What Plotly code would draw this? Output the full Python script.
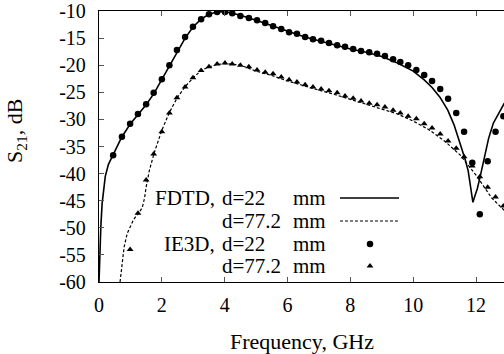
import plotly.graph_objects as go

# ---- data ----
fdtd22_f = [0, 0.03, 0.06, 0.1, 0.15, 0.2, 0.3, 0.45, 0.73, 1.0, 1.25, 1.5, 1.75, 2.0, 2.25, 2.5,
            2.75, 3.0, 3.25, 3.5, 3.75, 4.0, 4.25, 4.5, 5.0, 5.5, 6.0, 6.5, 7.0, 7.5, 8.0, 8.5,
            9.0, 9.5, 10.0, 10.35, 10.6, 10.85, 11.1, 11.3, 11.5, 11.65, 11.75, 11.82, 11.9,
            11.97, 12.04, 12.13, 12.23, 12.4, 12.55, 12.75, 12.9]
fdtd22_db = [-60, -54, -49.5, -45.5, -42.5, -40.5, -38.3, -36.5, -33.2, -30.8, -29.0, -27.3, -25.2,
             -22.6, -20.0, -17.3, -14.9, -12.9, -11.5, -10.6, -10.2, -10.1, -10.4, -10.8, -11.7,
             -12.7, -13.8, -14.7, -15.5, -16.3, -17.0, -17.6, -18.4, -19.6, -21.1, -22.7, -24.1,
             -25.9, -28.3, -31.0, -34.4, -37.3, -39.5, -42.0, -45.3, -44.0, -42.8, -40.6, -37.8,
             -33.5, -30.7, -28.5, -27.0]

fdtd77_f = [0.67, 0.72, 0.8, 0.9, 1.0, 1.1, 1.2, 1.3, 1.38, 1.45, 1.5, 1.6, 1.75, 2.0, 2.25, 2.5,
            2.75, 3.0, 3.25, 3.5, 3.75, 4.0, 4.25, 4.5, 5.0, 5.5, 6.0, 6.5, 7.0, 7.5, 8.0, 8.5,
            9.0, 9.5, 10.0, 10.5, 11.0, 11.5, 12.0, 12.25, 12.5, 12.9]
fdtd77_db = [-60, -57, -53.5, -51, -49.6, -48.5, -47.7, -47.0, -46.2, -44.5, -42.5, -39.5, -36.3,
             -32.0, -28.6, -25.9, -23.9, -22.3, -21.0, -20.3, -19.9, -19.7, -19.8, -20.0, -21.1,
             -21.9, -22.9, -23.8, -24.6, -25.4, -26.3, -27.2, -28.0, -29.0, -30.3, -31.9, -34.0,
             -36.6, -40.3, -42.5, -44.5, -46.8]

ie3d22_f = [0.45, 0.73, 0.99, 1.24, 1.5, 1.74, 2.0, 2.24, 2.48, 2.74, 2.99, 3.25, 3.5, 3.76, 4.01,
            4.24, 4.5, 4.77, 5.03, 5.29, 5.54, 5.8, 6.05, 6.3, 6.56, 6.81, 7.07, 7.32, 7.58, 7.83,
            8.09, 8.34, 8.6, 8.85, 9.1, 9.36, 9.59, 9.84, 10.1, 10.35, 10.6, 10.86, 11.11, 11.37,
            11.62, 11.88, 12.12, 12.37, 12.62, 12.87]
ie3d22_db = [-36.6, -33.2, -30.8, -29.0, -27.2, -25.1, -22.6, -20.0, -17.2, -14.8, -12.9, -11.5,
             -10.6, -10.2, -10.2, -10.4, -10.9, -11.3, -11.7, -12.2, -12.8, -13.3, -13.9, -14.2,
             -14.8, -15.2, -15.5, -15.9, -16.3, -16.6, -17.0, -17.4, -17.6, -17.9, -18.3, -18.9,
             -19.4, -20.0, -20.9, -21.8, -22.9, -24.4, -26.2, -28.8, -32.3, -38.0, -47.5, -37.7,
             -32.3, -29.4]

ie3d77_f = [0.99, 1.24, 1.5, 1.74, 2.0, 2.24, 2.48, 2.74, 2.99, 3.25, 3.5, 3.76, 4.01, 4.24, 4.5,
            4.77, 5.03, 5.29, 5.54, 5.8, 6.05, 6.3, 6.56, 6.81, 7.07, 7.32, 7.58, 7.83, 8.09, 8.34,
            8.6, 8.85, 9.1, 9.36, 9.59, 9.84, 10.1, 10.35, 10.6, 10.86, 11.11, 11.37, 11.62, 11.88,
            12.12, 12.37, 12.62, 12.87]
ie3d77_db = [-54.0, -47.3, -41.2, -36.4, -32.3, -28.8, -26.0, -24.0, -22.3, -21.0, -20.3, -19.8,
             -19.6, -19.8, -20.0, -20.3, -20.9, -21.3, -21.6, -22.2, -22.7, -23.1, -23.6, -24.0,
             -24.4, -24.7, -25.1, -25.7, -26.1, -26.6, -27.0, -27.3, -27.7, -28.3, -28.8, -29.4,
             -29.9, -30.8, -31.6, -32.7, -34.0, -35.3, -36.9, -38.6, -40.6, -42.5, -44.3, -46.0]

y_ticks = [-10, -15, -20, -25, -30, -35, -40, -45, -50, -55, -60]
y_ticklabels = ["-10", "-15", "-20", "-25", "-30", "-35", "-40", "-45", "-50", "-55", "-60"]
x_ticks = [0, 2, 4, 6, 8, 10, 12]

legend_rows = [("FDTD,", "d=22", "mm"), ("", "d=77.2", "mm"), ("IE3D,", "d=22", "mm"), ("", "d=77.2", "mm")]

FONT = "Liberation Serif"
W, H = 504, 354
L, R, T, B = 99, 504, 11, 282


def px(x):
    return (x - L) / (R - L)


def py(y):
    return (B - y) / (B - T)


fig = go.Figure()
fig.add_trace(go.Scatter(x=fdtd22_f, y=fdtd22_db, mode="lines",
                         line=dict(color="black", width=1.6), showlegend=False))
fig.add_trace(go.Scatter(x=fdtd77_f, y=fdtd77_db, mode="lines",
                         line=dict(color="black", width=1.2, dash="3px,2px"), showlegend=False))
fig.add_trace(go.Scatter(x=ie3d22_f, y=ie3d22_db, mode="markers",
                         marker=dict(symbol="circle", size=6.5, color="black"), showlegend=False))
fig.add_trace(go.Scatter(x=ie3d77_f, y=ie3d77_db, mode="markers",
                         marker=dict(symbol="triangle-up", size=6, color="black"), showlegend=False))

# legend samples on an overlay axis in paper-like units
row_y = [198, 221, 244, 266]
fig.add_trace(go.Scatter(x=[px(340), px(399)], y=[py(row_y[0])] * 2, mode="lines",
                         line=dict(color="black", width=1.6), xaxis="x2", yaxis="y2", showlegend=False))
fig.add_trace(go.Scatter(x=[px(340), px(399)], y=[py(row_y[1])] * 2, mode="lines",
                         line=dict(color="black", width=1.2, dash="3px,2px"), xaxis="x2", yaxis="y2",
                         showlegend=False))
fig.add_trace(go.Scatter(x=[px(370)], y=[py(row_y[2])], mode="markers",
                         marker=dict(symbol="circle", size=6.5, color="black"), xaxis="x2", yaxis="y2",
                         showlegend=False))
fig.add_trace(go.Scatter(x=[px(370)], y=[py(row_y[3])], mode="markers",
                         marker=dict(symbol="triangle-up", size=6, color="black"), xaxis="x2", yaxis="y2",
                         showlegend=False))

ann = []
for (pre, d, mm), ry in zip(legend_rows, row_y):
    if pre:
        ann.append(dict(text=pre, x=px(217), y=py(ry), xanchor="right", yanchor="middle"))
    ann.append(dict(text=d, x=px(220), y=py(ry), xanchor="left", yanchor="middle"))
    ann.append(dict(text=mm, x=px(291), y=py(ry), xanchor="left", yanchor="middle"))
for a in ann:
    a.update(xref="paper", yref="paper", showarrow=False, font=dict(family=FONT, size=21, color="black"))

ann.append(dict(text="Frequency, GHz", x=px(302), y=py(341), xref="paper", yref="paper",
                xanchor="center", yanchor="middle", showarrow=False,
                font=dict(family=FONT, size=22, color="black")))
ann.append(dict(text="S<sub>21</sub>, dB", x=px(16), y=py(131), xref="paper", yref="paper",
                xanchor="center", yanchor="middle", showarrow=False, textangle=-90,
                font=dict(family=FONT, size=22, color="black")))

fig.update_layout(
    width=W, height=H,
    margin=dict(l=L, r=W - R, t=T, b=H - B, pad=0),
    paper_bgcolor="white", plot_bgcolor="white",
    font=dict(family=FONT, size=20, color="black"),
    annotations=ann,
    xaxis=dict(range=[0, (R - L) / 31.42], tickvals=x_ticks, ticks="inside", ticklen=5,
               tickcolor="#555", showline=True, linecolor="black", linewidth=1.3, mirror="allticks",
               showgrid=False, zeroline=False, ticklabelstandoff=5,
               tickfont=dict(family=FONT, size=20, color="black")),
    yaxis=dict(range=[-60, -10], tickvals=y_ticks, ticktext=y_ticklabels, ticks="inside", ticklen=5,
               tickcolor="#555", showline=True, linecolor="black", linewidth=1.3, mirror=False,
               showgrid=False, zeroline=False, ticklabelstandoff=8,
               tickfont=dict(family=FONT, size=20, color="black")),
    xaxis2=dict(range=[0, 1], overlaying="x", visible=False),
    yaxis2=dict(range=[0, 1], overlaying="y", visible=False),
)

fig.write_html("out.html")
